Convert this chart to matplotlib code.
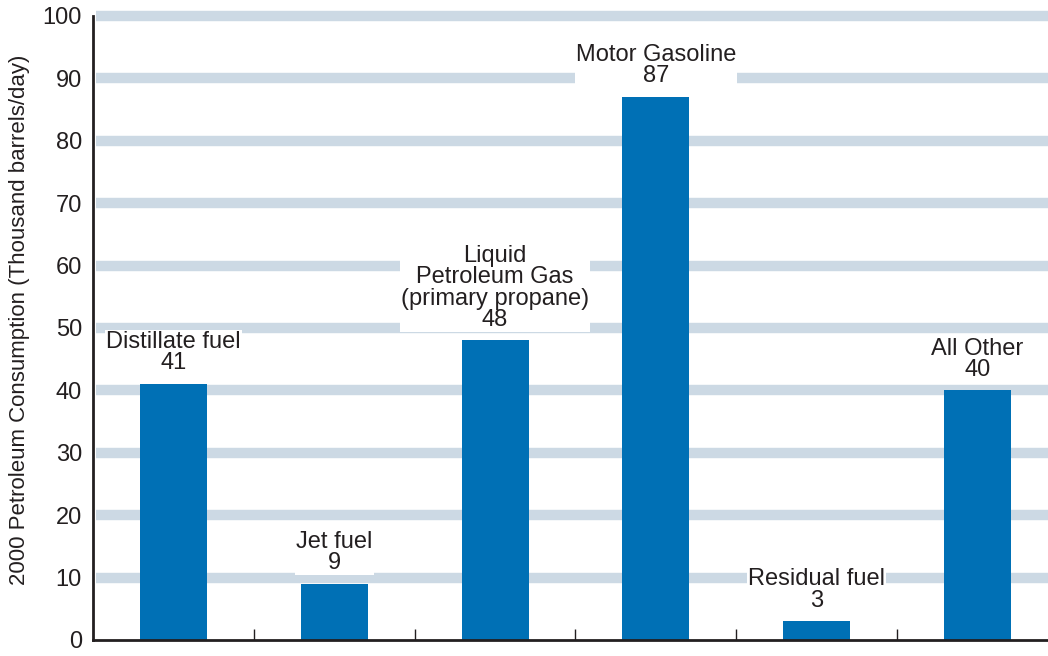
import matplotlib
matplotlib.use("Agg")
import matplotlib.pyplot as plt

plt.rcParams['font.family'] = ['Liberation Sans', 'DejaVu Sans']

# Petroleum consumption by product, year 2000 (thousand barrels/day)
categories = ["Distillate fuel", "Jet fuel", "Liquid\nPetroleum Gas\n(primary propane)",
              "Motor Gasoline", "Residual fuel", "All Other"]
values = [41, 9, 48, 87, 3, 40]
y_ticks = [0, 10, 20, 30, 40, 50, 60, 70, 80, 90, 100]

BAR_COLOR = "#0070B5"
GRID_COLOR = "#CCD9E4"
TEXT_COLOR = "#231F20"

fig = plt.figure(figsize=(10.48, 6.56), dpi=100)
ax = fig.add_axes([93 / 1048, 16 / 656, 965 / 1048, 624 / 656])

xs = list(range(len(categories)))
ax.set_xlim(-0.5, len(categories) - 0.5)
ax.set_ylim(0, 100)

# wide pale bands at every ten units
for t in y_ticks[1:]:
    ax.axhline(t, xmin=0.003, xmax=1.0, color=GRID_COLOR, linewidth=7.5,
               zorder=0, clip_on=False, solid_capstyle='butt')

ax.bar(xs, values, width=0.416, color=BAR_COLOR, zorder=2)

# name and value above each bar
for x, name, v in zip(xs, categories, values):
    ax.annotate(f"{name}\n{v}", xy=(x, v), xytext=(0, 7), textcoords="offset points",
                ha="center", va="bottom", fontsize=17, color=TEXT_COLOR,
                linespacing=0.95, zorder=3,
                bbox=dict(boxstyle="square,pad=0.05", facecolor="white", edgecolor="none"))

# axes styling
for side in ("top", "right"):
    ax.spines[side].set_visible(False)
for side in ("left", "bottom"):
    ax.spines[side].set_linewidth(2)
    ax.spines[side].set_color(TEXT_COLOR)
    ax.spines[side].set_zorder(4)

ax.set_yticks(y_ticks)
ax.set_yticklabels([str(t) for t in y_ticks])
ax.tick_params(axis="y", length=0, pad=8, labelsize=17, labelcolor=TEXT_COLOR)

# boundary ticks between categories, pointing inward
ax.set_xticks([x + 0.5 for x in xs[:-1]])
ax.set_xticklabels([])
ax.tick_params(axis="x", direction="in", length=8, width=1, color=TEXT_COLOR)

fig.text(20 / 1048, 1 - 320 / 656, "2000 Petroleum Consumption (Thousand barrels/day)",
         rotation=90, ha="center", va="center", fontsize=16, color=TEXT_COLOR)

fig.savefig("out.png", dpi=100)
